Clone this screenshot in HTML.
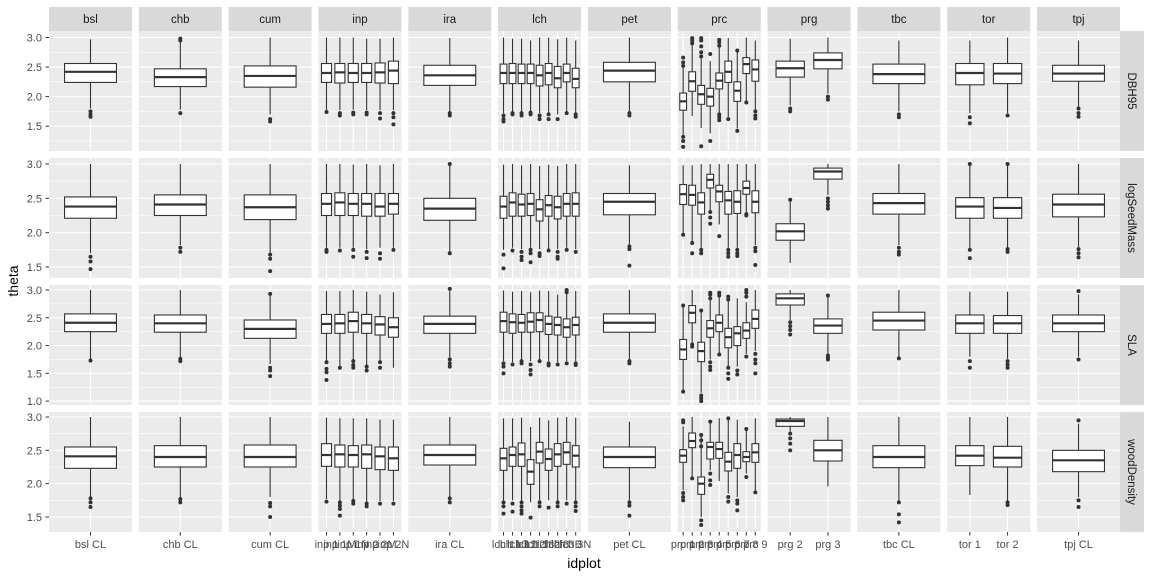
<!DOCTYPE html>
<html><head><meta charset="utf-8">
<style>
html,body{margin:0;padding:0;background:#fff;}
svg{display:block;font-family:"Liberation Sans",Arial,sans-serif;}
</style></head>
<body>
<svg id="chart" width="1152" height="576" viewBox="0 0 1152 576" xmlns="http://www.w3.org/2000/svg"></svg>
<script>
// ---------- data ----------
const facets = ["bsl","chb","cum","inp","ira","lch","pet","prc","prg","tbc","tor","tpj"];
const rowNames = ["DBH95","logSeedMass","SLA","woodDensity"];
const categoryLabels = [
  ["bsl CL"],["chb CL"],["cum CL"],
  ["inp 1","inp 1M","inp 1N","inp 2","inp 2M","inp 2N"],
  ["ira CL"],
  ["lch 1","lch 10","lch 11","lch 12","lch 13","lch 2","lch 3","lch 3B","lch 3N"],
  ["pet CL"],
  ["prc 1","prc 2","prc 3","prc 4","prc 5","prc 6","prc 7","prc 8","prc 9"],
  ["prg 2","prg 3"],["tbc CL"],["tor 1","tor 2"],["tpj CL"]
];
const rowRanges = [[1.08,3.11],[1.34,3.087],[0.93,3.09],[1.275,3.075]];
const rowTicks = [[1.5,2.0,2.5,3.0],[1.5,2.0,2.5,3.0],[1.0,1.5,2.0,2.5,3.0],[1.5,2.0,2.5,3.0]];
// each box: [lower whisker, q1, median, q3, upper whisker, [outliers]]
const dbh95 = [
 [[1.80,2.24,2.42,2.56,2.97,[1.75,1.70,1.66]]],
 [[1.78,2.17,2.33,2.47,2.92,[1.72,2.95,2.98]]],
 [[1.70,2.16,2.35,2.52,3.00,[1.62,1.58]]],
 [[1.77,2.24,2.40,2.56,3.00,[1.74]],[1.77,2.23,2.41,2.56,3.00,[1.72,1.68]],[1.78,2.24,2.40,2.56,3.00,[1.73,1.70]],[1.77,2.24,2.40,2.56,2.98,[1.73,1.70]],[1.77,2.23,2.41,2.57,2.98,[1.72,1.63]],[1.77,2.22,2.44,2.60,3.00,[1.72,1.65,1.53]]],
 [[1.74,2.19,2.36,2.53,2.99,[1.72,1.68]]],
 [[1.72,2.22,2.40,2.55,3.00,[1.68,1.62,1.58]],[1.75,2.22,2.40,2.56,2.98,[1.72,1.70]],[1.75,2.22,2.40,2.55,2.98,[1.72,1.68]],[1.75,2.22,2.40,2.55,2.95,[1.73,1.70]],[1.72,2.18,2.36,2.53,3.00,[1.68,1.62]],[1.72,2.20,2.40,2.56,3.00,[1.70,1.62]],[1.70,2.15,2.31,2.51,2.97,[1.62]],[1.75,2.25,2.40,2.55,3.00,[1.72]],[1.72,2.15,2.30,2.48,2.95,[1.70,1.66]]],
 [[1.75,2.25,2.44,2.58,3.00,[1.72,1.68]]],
 [[1.35,1.77,1.92,2.06,2.50,[2.52,2.58,2.66,1.32,1.25,1.15]],[1.67,2.09,2.26,2.42,2.88,[2.90,2.95,2.99]],[1.47,1.87,2.04,2.19,2.66,[2.68,2.75,2.85,2.95,2.99,1.16]],[1.38,1.84,2.00,2.14,2.60,[2.72,1.25]],[1.72,2.13,2.27,2.40,2.85,[2.86,2.92,2.96,1.70,1.65,1.60]],[1.65,2.24,2.42,2.60,2.99,[1.62]],[1.46,1.92,2.10,2.25,2.77,[2.78,1.42]],[1.93,2.39,2.55,2.66,3.00,[1.90]],[1.77,2.26,2.46,2.62,2.95,[1.75,1.68,1.63]]],
 [[1.85,2.33,2.48,2.60,2.98,[1.80,1.75]],[2.05,2.47,2.62,2.74,3.00,[2.00,1.95]]],
 [[1.75,2.22,2.38,2.55,2.95,[1.70,1.65]]],
 [[1.72,2.20,2.40,2.56,2.95,[1.65,1.55]],[1.72,2.22,2.39,2.56,3.00,[1.68]]],
 [[1.83,2.26,2.39,2.53,2.95,[1.80,1.72,1.66]]]
];
const logSeedMass = [
 [[1.70,2.21,2.38,2.52,3.00,[1.65,1.58,1.47]]],
 [[1.82,2.25,2.41,2.55,3.00,[1.78,1.72]]],
 [[1.71,2.19,2.37,2.55,3.00,[1.68,1.62,1.44]]],
 [[1.78,2.25,2.42,2.57,3.00,[1.75,1.72]],[1.78,2.25,2.44,2.58,3.00,[1.74]],[1.78,2.25,2.42,2.57,2.99,[1.75,1.65]],[1.76,2.24,2.42,2.57,3.00,[1.72,1.63]],[1.78,2.24,2.38,2.57,2.98,[1.70,1.62]],[1.78,2.27,2.42,2.57,3.00,[1.75]]],
 [[1.72,2.18,2.35,2.50,2.98,[1.70,3.00]]],
 [[1.75,2.21,2.38,2.53,2.99,[1.68,1.48]],[1.78,2.24,2.44,2.58,3.00,[1.74]],[1.76,2.24,2.41,2.56,2.98,[1.72,1.65,1.60]],[1.78,2.25,2.42,2.57,3.00,[1.75,1.70,1.57]],[1.76,2.17,2.34,2.48,2.97,[1.70,1.66]],[1.76,2.24,2.40,2.54,2.99,[1.74]],[1.76,2.20,2.37,2.53,2.97,[1.72,1.65,1.62]],[1.78,2.24,2.42,2.57,3.00,[1.75]],[1.76,2.24,2.42,2.58,3.00,[1.72]]],
 [[1.83,2.26,2.45,2.57,2.98,[1.80,1.76,1.52]]],
 [[1.99,2.41,2.56,2.70,2.98,[1.97]],[1.87,2.40,2.55,2.69,2.98,[1.85,1.70]],[1.78,2.27,2.44,2.58,3.00,[1.75,1.70]],[2.33,2.65,2.77,2.85,3.00,[2.30,2.22,2.13]],[2.12,2.45,2.60,2.69,3.00,[1.95]],[1.78,2.27,2.47,2.60,3.00,[1.75,1.70,1.65]],[1.78,2.28,2.45,2.61,3.00,[1.75,1.70,1.66]],[2.28,2.56,2.65,2.75,3.00,[2.27,2.25]],[1.82,2.29,2.45,2.61,3.00,[1.78,1.73,1.53]]],
 [[1.56,1.89,2.02,2.13,2.46,[2.48]],[2.55,2.78,2.89,2.94,3.00,[2.50,2.45,2.40,2.35]]],
 [[1.82,2.27,2.43,2.57,3.00,[1.78,1.72,1.68]]],
 [[1.75,2.21,2.38,2.51,2.99,[3.00,1.75,1.63]],[1.78,2.21,2.36,2.51,2.99,[3.00,1.76,1.72]]],
 [[1.79,2.23,2.41,2.56,3.00,[1.76,1.70,1.64]]]
];
const sla = [
 [[1.76,2.25,2.41,2.57,3.00,[1.73]]],
 [[1.78,2.24,2.40,2.55,3.00,[1.76,1.72]]],
 [[1.67,2.13,2.30,2.46,2.90,[2.93,1.60,1.55,1.45]]],
 [[1.73,2.22,2.39,2.56,2.98,[1.70,1.58,1.52,1.38]],[1.62,2.22,2.40,2.56,2.98,[1.60]],[1.75,2.24,2.44,2.60,3.00,[1.72,1.65,1.60]],[1.65,2.22,2.40,2.56,2.97,[1.62,1.55]],[1.72,2.19,2.38,2.52,2.92,[1.70,1.60]],[1.60,2.15,2.33,2.50,2.96,[]]],
 [[1.78,2.22,2.39,2.53,2.98,[3.02,1.75,1.68,1.62]]],
 [[1.72,2.24,2.44,2.60,2.99,[1.68,1.62,1.50]],[1.70,2.22,2.42,2.57,2.97,[1.66]],[1.75,2.24,2.41,2.56,2.98,[1.72,1.68]],[1.72,2.24,2.43,2.59,2.96,[1.66,1.56,1.48]],[1.75,2.25,2.46,2.59,2.99,[1.72]],[1.72,2.20,2.39,2.53,2.98,[1.68,1.64]],[1.70,2.19,2.37,2.51,2.92,[1.66]],[1.72,2.15,2.33,2.48,2.95,[3.00,2.96,1.68]],[1.72,2.19,2.37,2.51,2.98,[1.68,1.65]]],
 [[1.75,2.24,2.41,2.57,3.00,[1.72,1.68]]],
 [[1.20,1.75,1.93,2.11,2.70,[2.72,1.17]],[2.04,2.41,2.59,2.72,3.00,[2.02,1.98]],[1.15,1.71,1.90,2.06,2.60,[2.63,1.10,1.05,1.00]],[1.75,2.15,2.31,2.45,2.82,[2.85,2.92,2.95,1.70,1.62,1.56]],[1.87,2.25,2.41,2.55,2.88,[2.90,2.95,1.84]],[1.62,1.96,2.15,2.31,2.80,[2.83,2.88,1.60,1.50,1.40]],[1.62,2.00,2.22,2.34,2.85,[1.55,1.48]],[1.85,2.13,2.27,2.41,2.78,[2.88,2.95,3.00,1.80]],[1.90,2.31,2.48,2.64,3.00,[1.85,1.75,1.68,1.50]]],
 [[2.46,2.73,2.85,2.93,3.00,[2.42,2.35,2.28,2.20]],[1.85,2.22,2.36,2.48,2.88,[2.90,1.82,1.78,1.75]]],
 [[1.79,2.28,2.45,2.60,3.00,[1.77]]],
 [[1.80,2.22,2.40,2.55,2.97,[1.72,1.60]],[1.76,2.22,2.40,2.54,2.97,[1.72,1.66,1.60]]],
 [[1.80,2.25,2.40,2.55,2.92,[2.98,1.75]]]
];
const woodDensity = [
 [[1.80,2.23,2.41,2.55,3.00,[1.78,1.72,1.65]]],
 [[1.79,2.25,2.40,2.57,3.00,[1.77,1.72]]],
 [[1.80,2.25,2.40,2.58,3.00,[1.71,1.66,1.50]]],
 [[1.77,2.26,2.43,2.60,2.99,[1.73]],[1.75,2.25,2.44,2.58,2.98,[1.72,1.67,1.62,1.52]],[1.76,2.25,2.43,2.57,2.98,[1.74,1.70]],[1.72,2.23,2.44,2.58,2.98,[1.70,1.66]],[1.74,2.21,2.41,2.55,2.96,[1.70]],[1.74,2.20,2.38,2.55,2.96,[1.70]]],
 [[1.80,2.28,2.43,2.58,3.00,[1.78,1.72]]],
 [[1.75,2.20,2.38,2.53,2.98,[1.72,1.66,1.55]],[1.75,2.26,2.43,2.55,2.98,[1.70,1.58]],[1.75,2.26,2.44,2.61,2.99,[1.72,1.66,1.60,1.55]],[1.72,1.99,2.18,2.36,2.85,[1.49]],[1.75,2.31,2.48,2.62,2.99,[1.72,1.66]],[1.75,2.20,2.37,2.52,2.95,[1.64]],[1.75,2.26,2.44,2.60,2.99,[1.72,1.66]],[1.75,2.29,2.47,2.62,3.00,[1.70]],[1.75,2.25,2.42,2.57,2.99,[1.72,1.66,1.59]]],
 [[1.75,2.24,2.40,2.55,2.93,[1.72,1.67,1.52]]],
 [[1.90,2.32,2.42,2.51,2.86,[2.92,2.95,1.86,1.80,1.75]],[2.10,2.54,2.64,2.76,3.00,[2.08]],[1.50,1.84,2.00,2.10,2.70,[2.73,2.65,2.56,1.45,1.38]],[2.20,2.37,2.55,2.62,2.95,[2.93,2.15,2.05,1.98]],[2.04,2.38,2.52,2.62,2.98,[]],[1.85,2.19,2.33,2.47,2.97,[2.98,1.80,1.73]],[1.80,2.23,2.43,2.60,2.96,[1.75,1.70,1.60]],[2.15,2.33,2.40,2.48,2.80,[2.82,2.10]],[1.90,2.32,2.47,2.60,2.98,[1.87]]],
 [[2.78,2.86,2.94,2.97,3.00,[2.75,2.68,2.60,2.50]],[1.96,2.34,2.50,2.65,3.00,[]]],
 [[1.74,2.24,2.40,2.57,3.00,[1.72,1.54,1.42]]],
 [[1.83,2.27,2.42,2.57,3.00,[]],[1.74,2.25,2.39,2.56,3.00,[1.72,1.68]]],
 [[1.80,2.18,2.35,2.50,2.90,[2.95,1.75,1.65]]]
];
const rowData = [dbh95, logSeedMass, sla, woodDensity];

// ---------- layout ----------
const NS = "http://www.w3.org/2000/svg";
const svg = document.getElementById("chart");
const panelX0 = 49, panelStep = 89.82, panelW = 83;
const rowTop = [31, 158, 285, 412], panelH = 120;
function mk(tag, attrs, parent){ const e=document.createElementNS(NS,tag); for(const k in attrs) e.setAttribute(k,attrs[k]); (parent||svg).appendChild(e); return e; }
function yScale(r, v){ const [lo,hi]=rowRanges[r]; return rowTop[r] + (hi - v)/(hi-lo)*panelH; }
function xScale(f, i){ const n=categoryLabels[f].length; const unit=panelW/(n+0.2); return panelX0 + f*panelStep + (i+0.6)*unit; }

// strips (top)
facets.forEach((f, fi) => {
  const x = panelX0 + fi*panelStep;
  const s = mk("rect",{x:x,y:7,width:panelW,height:24,fill:"#D9D9D9"});
  
  
  const t = mk("text",{x:x+panelW/2,y:23,"text-anchor":"middle","font-size":"11.5",fill:"#1A1A1A"});
  t.textContent = f;
  
  
});
// strips (right)
rowNames.forEach((rn, r) => {
  const s = mk("rect",{x:1120,y:rowTop[r],width:24,height:panelH,fill:"#D9D9D9"});
  
  
  const cy = rowTop[r]+panelH/2;
  const t = mk("text",{x:1128,y:cy,"text-anchor":"middle","font-size":"11.5",fill:"#1A1A1A",transform:`rotate(90 1128 ${cy})`});
  t.textContent = rn;
  
  
});

// panels
for (let r=0; r<4; r++){
  const [lo,hi] = rowRanges[r];
  const ticks = rowTicks[r];
  // y axis labels
  ticks.forEach(tv => {
    const y = yScale(r,tv);
    const tl = mk("text",{x:42,y:y+4,"text-anchor":"end","font-size":"11",fill:"#4D4D4D"});
    tl.textContent = tv.toFixed(1);
    
    
    const tk = mk("line",{x1:45.5,x2:49,y1:y,y2:y,stroke:"#333",
      "stroke-width":1});
    
    
  });
  for (let f=0; f<facets.length; f++){
    const px = panelX0 + f*panelStep;
    const g = mk("g",{});
    
    
    mk("rect",{x:px,y:rowTop[r],width:panelW,height:panelH,fill:"#EBEBEB"},g);
    // minor grid
    for (let k=0;k<ticks.length+1;k++){
      const mv = (k<ticks.length? ticks[k]-0.25 : ticks[ticks.length-1]+0.25);
      if (mv>lo && mv<hi){ const y=yScale(r,mv); mk("line",{x1:px,x2:px+panelW,y1:y,y2:y,stroke:"#fff","stroke-width":0.55},g); }
    }
    ticks.forEach(tv=>{ const y=yScale(r,tv); mk("line",{x1:px,x2:px+panelW,y1:y,y2:y,stroke:"#fff","stroke-width":1.1},g); });
    const n = categoryLabels[f].length;
    const unit = panelW/(n+0.2);
    for (let i=0;i<n;i++){ const x=xScale(f,i); mk("line",{x1:x,x2:x,y1:rowTop[r],y2:rowTop[r]+panelH,stroke:"#fff","stroke-width":1.1},g); }
    // boxes
    rowData[r][f].forEach((b, i) => {
      const x = xScale(f,i), hw = unit*0.75/2;
      const bg = mk("g",{},g);
      
      
      mk("line",{x1:x,x2:x,y1:yScale(r,b[4]),y2:yScale(r,b[3]),stroke:"#333","stroke-width":1.1},bg);
      mk("line",{x1:x,x2:x,y1:yScale(r,b[1]),y2:yScale(r,b[0]),stroke:"#333","stroke-width":1.1},bg);
      mk("rect",{x:x-hw,y:yScale(r,b[3]),width:2*hw,height:yScale(r,b[1])-yScale(r,b[3]),fill:"#fff",stroke:"#333","stroke-width":1.1},bg);
      mk("line",{x1:x-hw,x2:x+hw,y1:yScale(r,b[2]),y2:yScale(r,b[2]),stroke:"#333","stroke-width":2.2},bg);
      b[5].forEach(o => { mk("circle",{cx:x,cy:yScale(r,o),r:2,fill:"#333"},bg); });
    });
    // x labels bottom row
    if (r===3){
      for (let i=0;i<n;i++){
        const x=xScale(f,i);
        mk("line",{x1:x,x2:x,y1:532,y2:535.5,stroke:"#333","stroke-width":1});
        const xl = mk("text",{x:x,y:548,"text-anchor":"middle","font-size":"11",fill:"#4D4D4D"});
        xl.textContent = categoryLabels[f][i];
        
        
      }
    }
  }
}
// axis titles
const xt = mk("text",{x:584,y:568,"text-anchor":"middle","font-size":"14",fill:"#000"});
xt.textContent = "idplot";


const yt = mk("text",{x:18,y:281,"text-anchor":"middle","font-size":"14",fill:"#000",transform:"rotate(-90 18 281)"});
yt.textContent = "theta";


</script>
</body></html>
